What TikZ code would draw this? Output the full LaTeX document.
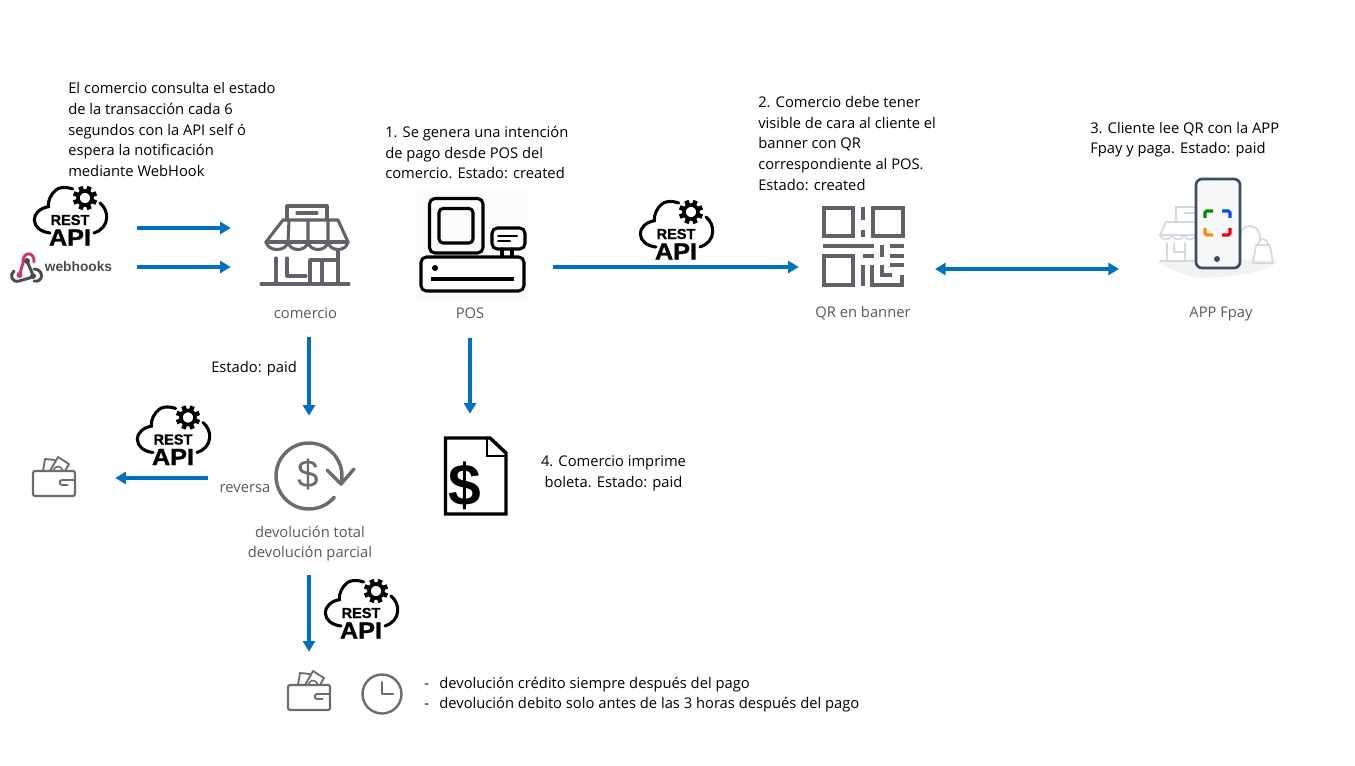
\documentclass[tikz,border=0pt]{standalone}
\usepackage{fontspec}
\setmainfont{Open Sans}
\newfontfamily\arialf{Liberation Sans}
\newfontfamily\arialh[FakeBold=1.2]{Liberation Sans Bold}
\newfontfamily\arialw[FakeBold=1.2,FakeStretch=1.08]{Liberation Sans Bold}
\usetikzlibrary{arrows.meta}
\definecolor{flowblue}{HTML}{0070C0}
\definecolor{icongray}{HTML}{5F6368}
\definecolor{softgray}{HTML}{6A6D70}
\definecolor{labelgray}{HTML}{595959}
\definecolor{lightline}{HTML}{D5D8E0}
\definecolor{phoneline}{HTML}{3F4A66}
\definecolor{hookred}{HTML}{C73A63}
\definecolor{hookdark}{HTML}{4B4B4B}
\tikzset{
  x=0.75pt,y=-0.75pt,
  flow/.style={draw=flowblue,line width=2.7pt,-{Triangle[length=8pt,width=9pt]}},
  flowboth/.style={draw=flowblue,line width=2.7pt,{Triangle[length=8pt,width=9pt]}-{Triangle[length=8pt,width=9pt]}},
  txt/.style={anchor=west,inner sep=0pt,align=left,text=black,font=\fontsize{11.05}{15.4}\selectfont},
  txtc/.style={txt,anchor=center,align=center},
  lbl/.style={anchor=center,inner sep=0pt,align=center,text=labelgray,font=\fontsize{11.05}{15.1}\selectfont},
  iconbox/.style 2 args={inner sep=0pt,minimum width=#1*0.75pt,minimum height=#2*0.75pt},
  grayicon/.style={draw=icongray,line width=2.3pt,line cap=round,line join=round},
  blackicon/.style={draw=black,line width=2.3pt,line cap=round,line join=round},
  restapi/.pic={
    \draw[black,line width=2.3pt,line cap=round]
      (2.7,-26) .. controls (-6,-29) and (-12,-27) .. (-14,-25)
      .. controls (-19,-21) and (-22,-15) .. (-21.7,-8.3)
      .. controls (-30,-7) and (-36,-1) .. (-35.7,5)
      .. controls (-35.5,12) and (-29,17) .. (-20,18);
    \draw[black,line width=2.3pt,line cap=round]
      (30,-12) .. controls (35,-8) and (37,-2) .. (36.7,3)
      .. controls (36.5,10) and (31,16) .. (24,18);
    \draw[black,line width=2.7pt] (15,-17) circle (7);
    \foreach \a in {0,45,...,315}{
      \draw[black,line width=3.4pt] (15,-17) ++(\a+22.5:8) -- ++(\a+22.5:4.2);
    }
    \node[inner sep=0pt,font=\arialh\fontsize{10.9}{11}\selectfont] (r) at (0,5) {REST};
    \node[inner sep=0pt,font=\arialw\fontsize{17.5}{18}\selectfont] (a) at (0,22.5) {API};
  },
  walleticon/.pic={
    \draw[softgray,line width=1.6pt,line cap=round,rounded corners=1.5pt] (0,14) rectangle (42,39);
    \draw[softgray,line width=1.4pt,line join=round] (10,14) -- (12,2) -- (22,3);
    \draw[softgray,line width=1.4pt,line join=round] (17,14) -- (25,0) -- (36,7) -- (32,14);
    \draw[softgray,line width=1.2pt] (20,14) .. controls (22,8) and (28,8) .. (30,14);
    \draw[softgray,line width=1.4pt] (41,23) -- (29,23) .. controls (26,23) and (26,28) .. (29,28) -- (35,28);
  }
}
\begin{document}
\begin{tikzpicture}
\useasboundingbox (0,0) rectangle (1355,766);
\fill[white] (0,0) rectangle (1355,766);

% ---- text
\node[txt] (t1) at (68,129.5) {El comercio consulta el estado\\de la transacción cada 6\\segundos con la API self ó\\espera la notificación\\mediante WebHook};
\node[txt] (t2) at (385,152.5) {1. Se genera una intención\\de pago desde POS del\\comercio. Estado: created};
\node[txt] (t3) at (758,143.5) {2. Comercio debe tener\\visible de cara al cliente el\\banner con QR\\correspondiente al POS.\\Estado: created};
\node[txt] (t4) at (1090,139.5) {3. Cliente lee QR con la APP\\Fpay y paga. Estado: paid};
\node[txtc] (t5) at (613.5,473.5) {4. Comercio imprime\\boleta. Estado: paid};
\node[txt] (t6) at (211,368.5) {Estado: paid};
\node[txt] (t7) at (424,694.5) {-\hspace{7.8pt}devolución crédito siempre después del pago\\-\hspace{7.8pt}devolución debito solo antes de las 3 horas después del pago};

% ---- labels
\node[lbl] (lcom) at (305.5,313) {comercio};
\node[lbl] (lpos) at (470,313) {POS};
\node[lbl] (lqr) at (863,313) {QR en banner};
\node[lbl] (lapp) at (1221,314) {APP Fpay};
\node[lbl] (lrev) at (245,488.5) {reversa};
\node[lbl] (ldev) at (310,543.5) {devolución total\\devolución parcial};

% ---- REST API icons
\pic (apia) at (70,215) {restapi};
\pic (apib) at (676,229) {restapi};
\pic (apic) at (173,434.5) {restapi};
\pic (apid) at (361,608) {restapi};

% ---- webhooks
\begin{scope}[line width=2.2pt,line cap=round]
  \draw[hookred] (19.5,275) -- (23,263) .. controls (22,251) and (35,251) .. (34,262);
  \draw[hookdark] (27,261) -- (33,275);
  \draw[hookdark] (14,271) .. controls (9,275) and (12,283) .. (19,281) -- (33,277);
  \draw[hookdark] (34,269) .. controls (44,269) and (44,283) .. (34,281);
  \fill[hookred] (19.5,275) circle (3);
  \fill[hookdark] (27,261) circle (3);
  \fill[hookdark] (33,276) circle (3);
  \node[inner sep=0pt,text=hookdark,font=\arialf\bfseries\fontsize{10.3}{11}\selectfont] (hooktxt) at (78.5,267) {webhooks};
\end{scope}

% ---- store
\node[iconbox={90}{82}] (store) at (305,246) {};
\begin{scope}[grayicon]
  \draw (287,220) -- (287,206) -- (327,206) -- (327,220);
  \draw (297,213) -- (317,213);
  \draw (283,220) -- (338,220) -- (348,242);
  \draw (283,220) -- (266,242);
  \draw (266,242) .. controls (268,252) and (286,252) .. (288,242)
        .. controls (290,252) and (306,252) .. (308,242)
        .. controls (310,252) and (326,252) .. (328,242)
        .. controls (330,252) and (346,252) .. (348,242);
  \draw (266,242) -- (348,242);
  \draw (289,220) -- (288,242) (308,220) -- (308,242) (328,220) -- (328,242);
  \draw (261,284) -- (349,284);
  \draw (276,258) -- (276,284);
  \draw (287,258) -- (287,276) -- (306,276);
  \draw (310,284) -- (310,260) -- (338,260) (322,260) -- (322,284);
  \draw (338,251) -- (338,284);
\end{scope}

% ---- POS
\node[iconbox={112}{113},fill=black!1.5] (pos) at (472,245.5) {};
\begin{scope}[blackicon]
  \draw[rounded corners=4pt] (429.5,198.5) rectangle (483,253);
  \draw[rounded corners=3pt] (439,208.5) rectangle (473,243);
  \draw[rounded corners=4pt] (492,228) rectangle (525,249);
  \draw[line width=1.5pt] (498,236) -- (517,236) (498,241) -- (510,241);
  \draw (502,249) -- (502,257) (512,249) -- (512,257);
  \draw[rounded corners=4pt,fill=white] (421,257) rectangle (524,291);
  \fill[black] (435,268) circle (3);
  \draw[line width=3pt,line cap=butt] (431,279) -- (514,279);
\end{scope}

% ---- QR
\node[iconbox={82}{80}] (qr) at (863,246) {};
\begin{scope}[grayicon,line width=2.6pt,line cap=butt,line join=miter]
  \draw (824,208) rectangle (853,236);
  \draw (873,208) rectangle (903,236);
  \draw (824,256) rectangle (853,285);
  \draw (863,207) -- (863,220) (863,230) -- (863,237);
  \draw (823,246) -- (874,246) (890,246) -- (904,246);
  \draw (882,245) -- (882,257);
  \draw (863,256) -- (874,256) (890,256) -- (904,256);
  \draw (863,265) -- (863,286);
  \draw (872,265) -- (872,285) -- (904,285);
  \draw (882,265) -- (882,275) -- (892,275);
  \draw (890,265) -- (904,265);
  \draw (902,275) -- (902,285);
\end{scope}

% ---- APP
\node[iconbox={121}{99}] (app) at (1218,228.5) {};
\fill[black!5] (1157,262) .. controls (1180,260) and (1250,258) .. (1278,261)
   .. controls (1270,270) and (1245,276) .. (1205,278) .. controls (1190,278) and (1170,270) .. (1157,262);
\begin{scope}[draw=lightline,line width=1.3pt,line cap=round,line join=round]
  \draw (1176,222) -- (1176,207) -- (1196,207);
  \draw (1184,213) -- (1196,213);
  \draw (1166,222) -- (1196,222);
  \draw (1166,222) -- (1160,235);
  \draw (1160,235) .. controls (1162,241) and (1170,241) .. (1172,235)
        .. controls (1174,241) and (1182,241) .. (1184,235)
        .. controls (1186,241) and (1194,241) .. (1196,235);
  \draw (1160,235) -- (1196,235);
  \draw (1167,243) -- (1167,260) (1174,243) -- (1174,252) -- (1186,252);
  \draw (1185,243) -- (1185,260);
  \draw (1160,261) -- (1196,261);
  \draw (1240,238) .. controls (1240,222) and (1260,222) .. (1260,238) -- (1260,240);
  \draw (1253,263) -- (1256,245) -- (1270,245) -- (1273,263) -- cycle;
  \draw (1258,245) .. controls (1258,237) and (1268,237) .. (1268,245);
\end{scope}
\draw[phoneline,fill=black!3,line width=2pt,rounded corners=4.5pt] (1196,179) rectangle (1240,268);
\fill[phoneline] (1217,259) circle (3);
\begin{scope}[line width=2.3pt,rounded corners=1.2pt]
  \draw[green!55!black] (1205,218) -- (1205,211) -- (1213,211);
  \draw[blue!70!cyan] (1222,211) -- (1230,211) -- (1230,218);
  \draw[orange!90!yellow] (1205,228) -- (1205,235) -- (1213,235);
  \draw[red!75!purple] (1222,235) -- (1230,235) -- (1230,228);
\end{scope}

% ---- refund icon
\node[iconbox={80}{68}] (refund) at (315,476) {};
\draw[softgray,line width=2.6pt,line cap=round] (309,476) ++(40:33) arc[start angle=40,end angle=374,radius=33];
\draw[softgray,line width=2.6pt,line cap=round,line join=round] (327,470) -- (341,484) -- (354,469);
\node[inner sep=0pt,text=softgray,font=\arialf\fontsize{29}{30}\selectfont] (dollara) at (308,475) {\$};

% ---- receipt
\node[iconbox={62}{78}] (receipt) at (476,476) {};
\draw[blackicon,line join=miter,line width=2.6pt] (445.5,438) -- (490,438) -- (506,453) -- (506,514) -- (445.5,514) -- cycle;
\draw[blackicon,line join=miter,line width=2pt] (487,438) -- (487,456) -- (506,456);
\node[inner sep=0pt,font=\arialf\bfseries\fontsize{44}{45}\selectfont] (dollarb) at (465,486) {\$};

% ---- wallets and clock
\pic (wala) at (33,457) {walleticon};
\pic (walb) at (288,671) {walleticon};
\node[iconbox={42}{39}] (walletl) at (54,476.5) {};
\node[iconbox={42}{39}] (walletb) at (309,690.5) {};
\node[iconbox={40}{40}] (clock) at (382,694) {};
\draw[softgray,line width=1.8pt] (clock.center) circle (19.5);
\draw[softgray,line width=1.8pt,line join=round,line cap=round] (382,682) -- (clock.center) -- (393,694);

% ---- connectors
\coordinate (s1) at (137,228);
\coordinate (s2) at (137,267);
\coordinate (s3) at (553,267);
\coordinate (s4) at (935,269);
\coordinate (s5) at (1119,269);
\coordinate (s6) at (309,337);
\coordinate (s7) at (470,338);
\coordinate (s8) at (208,478);
\coordinate (s9) at (309,575);
\draw[flow,shorten >=21.75pt] (s1) -- (s1 -| store.west);
\draw[flow,shorten >=21.75pt] (s2) -- (s2 -| store.west);
\draw[flow,shorten >=17.25pt] (s3) -- (s3 -| qr.west);
\draw[flowboth] (s4) -- (s5);
\draw[flow,shorten >=19.5pt] (s6) -- (s6 |- refund.north);
\draw[flow,shorten >=17.25pt] (s7) -- (s7 |- receipt.north);
\draw[flow,shorten >=30pt] (s8) -- (s8 -| walletl.east);
\draw[flow,shorten >=14.25pt] (s9) -- (s9 |- walletb.north);
\end{tikzpicture}
\end{document}
